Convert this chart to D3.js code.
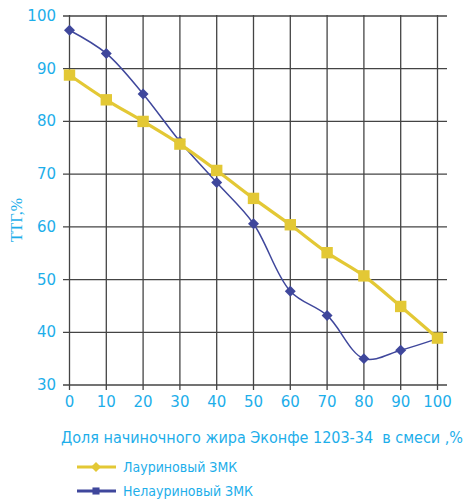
<!DOCTYPE html>
<html><head><meta charset="utf-8">
<script src="https://cdn.jsdelivr.net/npm/d3@7"></script>
<style>body{margin:0;background:#fff}svg{display:block}</style>
</head><body>
<svg id="c" width="464" height="499"></svg>
<script>
const xValues = [0,10,20,30,40,50,60,70,80,90,100];
const lauric = [88.8,84.1,80.0,75.7,70.7,65.4,60.4,55.1,50.7,44.9,38.9];
const nonLauric = [97.3,92.9,85.2,76.2,68.4,60.6,47.8,43.2,35.0,36.6,38.8];
const xTicks = [0,10,20,30,40,50,60,70,80,90,100];
const yTicks = [30,40,50,60,70,80,90,100];
const seriesNames = ["Лауриновый ЗМК","Нелауриновый ЗМК"];
const xTitle = "Доля начиночного жира Эконфе 1203-34  в смеси ,%";
const yTitle = "ТТГ,%";

const svg = d3.select("#c");
const x = d3.scaleLinear().domain([0,100]).range([69.5,437.5]);
const y = d3.scaleLinear().domain([30,100]).range([385,16]);
const cyan = "#1DAEEA", yellow = "#E3C835", blue = "#3F479C";

// grid
const g = svg.append("g");
g.selectAll(".hg").data(yTicks).join("line")
  .attr("x1",63).attr("x2",447).attr("y1",d=>y(d)).attr("y2",d=>y(d))
  .attr("stroke","#444").attr("stroke-width",1.3);
g.selectAll(".vg").data(xTicks).join("line")
  .attr("x1",d=>x(d)).attr("x2",d=>x(d)).attr("y1",15).attr("y2",390)
  .attr("stroke","#444").attr("stroke-width",1.3);

// tick labels
const font = "'DejaVu Sans', sans-serif";
svg.append("g").selectAll("text").data(yTicks).join("text")
  .attr("x",56).attr("y",d=>y(d)+5).attr("text-anchor","end")
  .attr("font-family",font).attr("font-size",15).attr("fill",cyan).text(d=>d);
svg.append("g").selectAll("text").data(xTicks).join("text")
  .attr("x",d=>x(d)).attr("y",407).attr("text-anchor","middle")
  .attr("font-family",font).attr("font-size",15).attr("fill",cyan).text(d=>d);

// titles
svg.append("text").attr("x",61).attr("y",443).attr("font-family","'DejaVu Sans Condensed', 'DejaVu Sans', sans-serif")
  .style("white-space","pre")
  .attr("font-size",16).attr("fill",cyan).attr("textLength",402).attr("lengthAdjust","spacingAndGlyphs").text(xTitle);
svg.append("text").attr("transform","translate(22,220) rotate(-90)").attr("text-anchor","middle")
  .attr("font-family","'Liberation Serif','DejaVu Serif',serif").attr("font-size",16).attr("fill",cyan).text(yTitle);

// lines
const line = d3.line().x((d,i)=>x(xValues[i])).y(d=>y(d)).curve(d3.curveCatmullRom.alpha(0.5));
svg.append("path").attr("d",line(nonLauric)).attr("fill","none").attr("stroke",blue).attr("stroke-width",1.5);
svg.append("path").attr("d",line(lauric)).attr("fill","none").attr("stroke",yellow).attr("stroke-width",3.2);

// markers
svg.append("g").selectAll("path").data(nonLauric).join("path")
  .attr("transform",(d,i)=>`translate(${x(xValues[i])},${y(d)}) rotate(45)`)
  .attr("d",d3.symbol(d3.symbolSquare,60)()).attr("fill",blue);
svg.append("g").selectAll("path").data(lauric).join("path")
  .attr("transform",(d,i)=>`translate(${x(xValues[i])},${y(d)})`)
  .attr("d",d3.symbol(d3.symbolSquare,130)()).attr("fill",yellow);

// legend
const lg = svg.append("g");
const ly = [467,491];
lg.append("line").attr("x1",77).attr("x2",116).attr("y1",ly[0]).attr("y2",ly[0]).attr("stroke",yellow).attr("stroke-width",3);
lg.append("path").attr("transform",`translate(96,${ly[0]}) rotate(45)`).attr("d",d3.symbol(d3.symbolSquare,50)()).attr("fill",yellow);
lg.append("line").attr("x1",77).attr("x2",116).attr("y1",ly[1]).attr("y2",ly[1]).attr("stroke",blue).attr("stroke-width",3);
lg.append("path").attr("transform",`translate(96,${ly[1]})`).attr("d",d3.symbol(d3.symbolSquare,50)()).attr("fill",blue);
lg.selectAll("text").data(seriesNames).join("text")
  .attr("x",123).attr("y",(d,i)=>ly[i]+5).attr("font-family","'DejaVu Sans Condensed', 'DejaVu Sans', sans-serif")
  .attr("font-size",14).attr("fill",cyan).text(d=>d);
</script>
</body></html>
